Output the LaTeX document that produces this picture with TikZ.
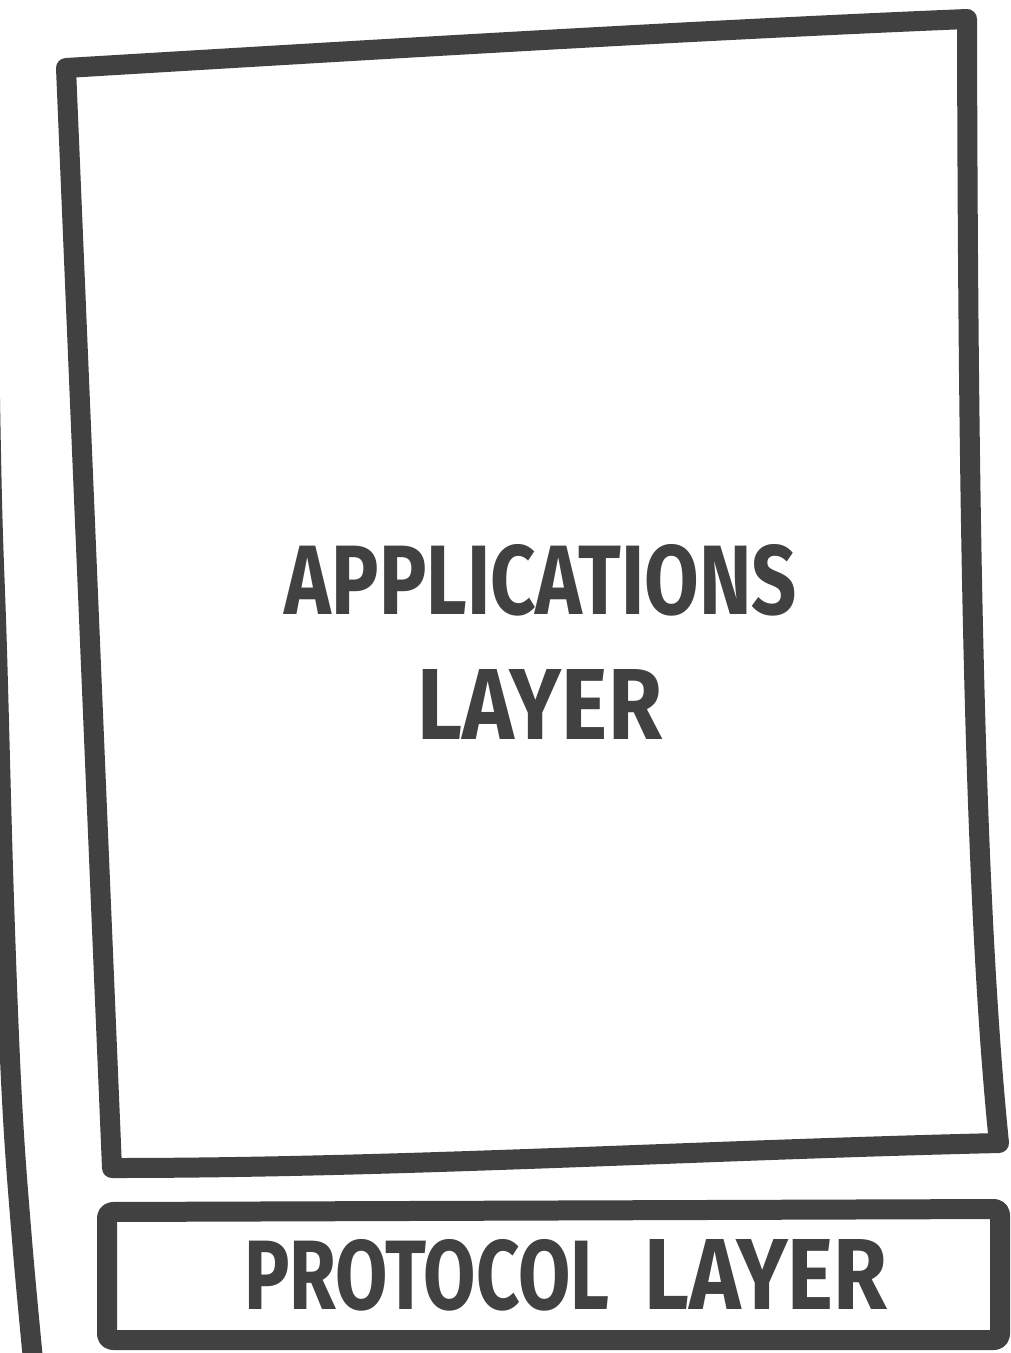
\documentclass[tikz,border=0pt]{standalone}
\usepackage{fontspec}
\setmainfont{Fira Sans}
\usepackage{graphicx}
\definecolor{ink}{HTML}{414141}
\begin{document}
\begin{tikzpicture}[x=1pt,y=-1pt,
  stroke/.style={draw=ink,line width=20pt,line join=round,line cap=round},
  label/.style={inner sep=0pt,text=ink,font=\bfseries}]
\useasboundingbox (0,0) rectangle (1011,1353);
% left edge line (partially outside)
\draw[stroke] plot[smooth,tension=0.6] coordinates {(-12,280) (-8,500) (-3,650) (4,900) (12,1100) (22,1240) (34,1370)};
% main box
\coordinate (tl) at (66,68);
\coordinate (tr) at (967,19);
\coordinate (br) at (999,1143);
\coordinate (bl) at (112,1168);
\draw[stroke] (tl) .. controls (400,48) and (700,30) .. (tr)
  .. controls (968,500) and (974,900) .. (br)
  .. controls (700,1150) and (400,1168) .. (bl)
  -- cycle;
% bottom box
\coordinate (ptl) at (107,1212);
\coordinate (ptr) at (1000,1209);
\coordinate (pbr) at (1000,1340);
\coordinate (pbl) at (107,1340);
\draw[stroke,rounded corners=6pt] (ptl) -- (ptr) -- (pbr) -- (pbl) -- cycle;
% texts
\node[label] (app) at (541,580) {\resizebox{512pt}{70pt}{APPLICATIONS}};
\node[label] (lay) at (540,704) {\resizebox{244pt}{70pt}{LAYER}};
\node[label] (proto) at (566,1275) {\resizebox{365pt}{70pt}{PROTOCOL}\hspace{35pt}\resizebox{243pt}{70pt}{LAYER}};
\end{tikzpicture}
\end{document}
